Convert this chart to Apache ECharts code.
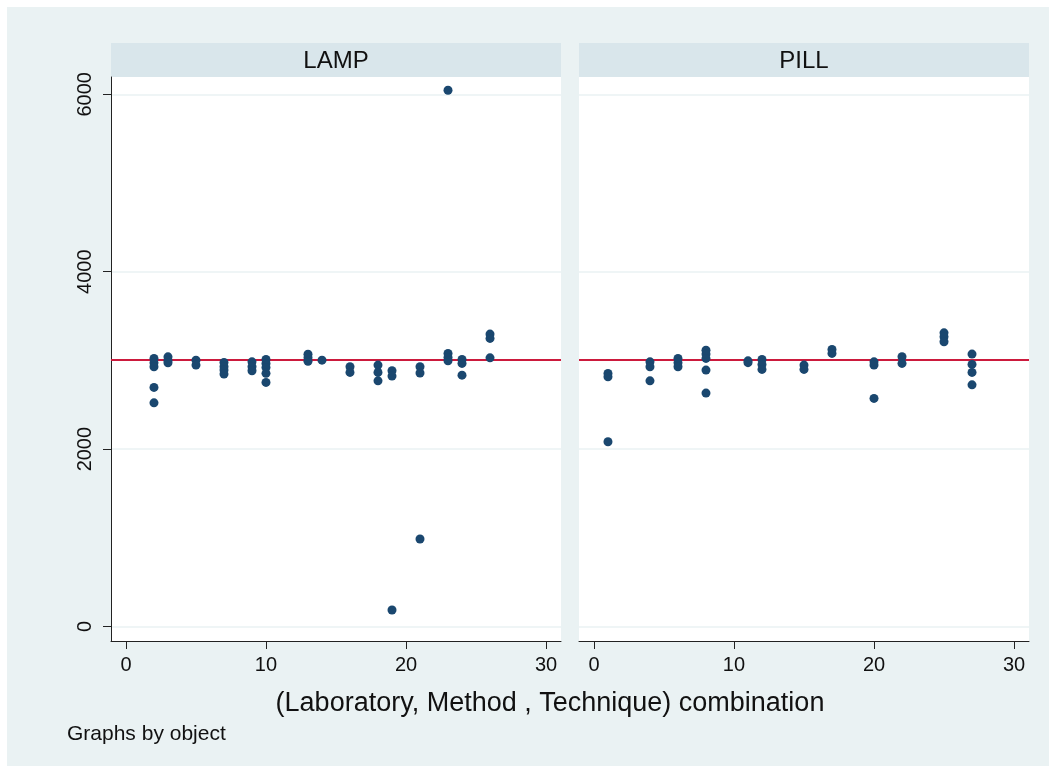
<!DOCTYPE html>
<html>
<head>
<meta charset="utf-8">
<script src="https://cdn.jsdelivr.net/npm/echarts@6/dist/echarts.min.js"></script>
<style>
  html, body { margin: 0; padding: 0; background: #fff; }
  #chart { width: 1054px; height: 770px; }
</style>
</head>
<body>
<div id="chart"></div>
<script>
// LAMP panel: (laboratory, method, technique) combination and measured value
const lampComb = [2, 2, 2, 2, 2, 3, 3, 3, 5, 5, 7, 7, 7, 7, 9, 9, 9,
  10, 10, 10, 10, 10, 13, 13, 13, 14, 16, 16, 18, 18, 18, 19, 19, 19,
  21, 21, 21, 23, 23, 23, 23, 24, 24, 24, 26, 26, 26];
const lampValue = [3023, 2973, 2928, 2696, 2522, 3040, 3000, 2973, 3003, 2947,
  2977, 2928, 2891, 2846, 2984, 2928, 2883,
  3011, 2966, 2921, 2854, 2752, 3070, 3030, 2990, 3003, 2928, 2865,
  2947, 2865, 2770, 2883, 2823, 186,
  2928, 2858, 987, 3079, 3034, 2996, 6046, 3011, 2966, 2834, 3297, 3248, 3029];

// PILL panel
const pillComb = [1, 1, 1, 4, 4, 4, 6, 6, 6, 8, 8, 8, 8, 8, 11, 11, 12, 12, 12,
  15, 15, 17, 17, 20, 20, 20, 22, 22, 25, 25, 25, 27, 27, 27, 27];
const pillValue = [2853, 2815, 2083, 2984, 2928, 2770, 3023, 2973, 2928,
  3116, 3071, 3023, 2891, 2632, 2995, 2975, 3011, 2955, 2899,
  2947, 2899, 3124, 3079, 2984, 2947, 2572, 3041, 2966, 3311, 3266, 3210,
  3071, 2955, 2865, 2725];

const panelNames = ['LAMP', 'PILL'];
const refValue = 3008;
const yTicks = [0, 2000, 4000, 6000];
const xTicks = [0, 10, 20, 30];

const font = 'Liberation Sans, Arial, sans-serif';
const dotColor = '#1a476f';
const lineColor = '#222';

function toPairs(xs, ys) {
  return xs.map((x, i) => [x, ys[i]]);
}

const chart = echarts.init(document.getElementById('chart'));

const gridLeft = [111, 579];

function xAxisFor(i) {
  return {
    type: 'value',
    gridIndex: i,
    min: -1.07,
    max: 31.07,
    axisLine: { show: true, onZero: false, lineStyle: { color: lineColor, width: 1 } },
    axisTick: { show: true, length: 8, customValues: xTicks, lineStyle: { color: lineColor } },
    axisLabel: {
      customValues: xTicks,
      formatter: (v) => String(v),
      fontFamily: font,
      fontSize: 20,
      color: '#111',
      margin: 14,
    },
    splitLine: { show: false },
  };
}

function yAxisFor(i) {
  const first = i === 0;
  return {
    type: 'value',
    gridIndex: i,
    min: -163,
    max: 6195,
    axisLine: { show: first, onZero: false, lineStyle: { color: lineColor, width: 1 } },
    axisTick: { show: first, length: 8, customValues: yTicks, lineStyle: { color: lineColor } },
    axisLabel: {
      show: first,
      customValues: yTicks,
      formatter: (v) => String(v),
      rotate: 90,
      fontFamily: font,
      fontSize: 20,
      color: '#111',
      margin: 16,
    },
    splitLine: { show: true, lineStyle: { color: '#eaf2f3', width: 1.5 } },
  };
}

function scatterFor(i, data) {
  return {
    type: 'scatter',
    xAxisIndex: i,
    yAxisIndex: i,
    data: data,
    symbolSize: 9,
    itemStyle: { color: dotColor, opacity: 1 },
    silent: true,
    z: 3,
    markLine: {
      silent: true,
      symbol: 'none',
      label: { show: false },
      lineStyle: { color: '#cc1a3d', width: 2, type: 'solid' },
      data: [{ yAxis: refValue }],
      z: 2,
    },
  };
}

const option = {
  backgroundColor: '#fff',
  animation: false,
  grid: gridLeft.map((l) => ({
    left: l,
    top: 77,
    width: 450,
    height: 564,
    show: true,
    backgroundColor: '#fff',
    borderWidth: 0,
  })),
  xAxis: [xAxisFor(0), xAxisFor(1)],
  yAxis: [yAxisFor(0), yAxisFor(1)],
  series: [
    scatterFor(0, toPairs(lampComb, lampValue)),
    scatterFor(1, toPairs(pillComb, pillValue)),
  ],
  graphic: [
    // outer plot region
    {
      type: 'rect',
      z: -10,
      shape: { x: 7, y: 7, width: 1042, height: 759 },
      style: { fill: '#eaf2f3' },
    },
    // panel strips
    ...gridLeft.map((l, i) => ({
      type: 'group',
      children: [
        {
          type: 'rect',
          shape: { x: l, y: 43, width: 450, height: 34 },
          style: { fill: '#d9e6eb' },
        },
        {
          type: 'text',
          x: l + 225,
          y: 61,
          style: {
            text: panelNames[i],
            font: '24px ' + font,
            fill: '#111',
            align: 'center',
            verticalAlign: 'middle',
          },
        },
      ],
    })),
    {
      type: 'text',
      x: 550,
      y: 704,
      style: {
        text: '(Laboratory, Method , Technique) combination',
        font: '27px ' + font,
        fill: '#111',
        align: 'center',
        verticalAlign: 'middle',
      },
    },
    {
      type: 'text',
      x: 67,
      y: 734,
      style: {
        text: 'Graphs by object',
        font: '21px ' + font,
        fill: '#111',
        align: 'left',
        verticalAlign: 'middle',
      },
    },
  ],
};

chart.setOption(option);
</script>
</body>
</html>
